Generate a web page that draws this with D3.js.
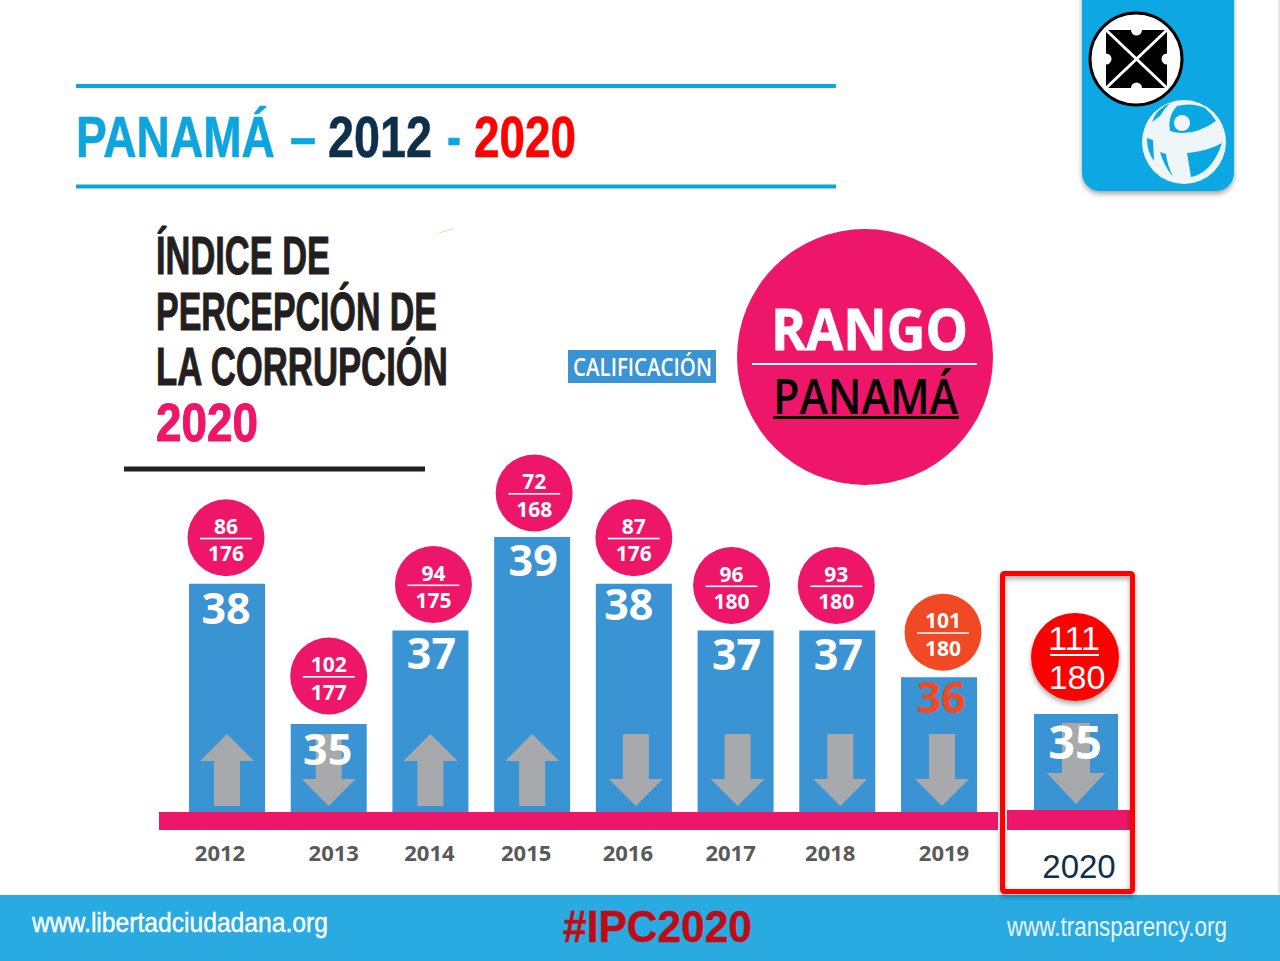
<!DOCTYPE html>
<html>
<head>
<meta charset="utf-8">
<script src="https://cdn.jsdelivr.net/npm/d3@7"></script>
<style>
  html, body { margin: 0; background: #fff; }
  svg { display: block; }
  text { font-family: "Open Sans", sans-serif; }
  .arial { font-family: "Liberation Sans", Arial, sans-serif; }
  .narrow { font-family: "Liberation Sans Narrow", "Liberation Sans", sans-serif; font-weight: 700; }
</style>
</head>
<body>
<svg width="1280" height="961"></svg>
<script>
// values
var years = ["2012", "2013", "2014", "2015", "2016", "2017", "2018", "2019"];
var scores = [38, 35, 37, 39, 38, 37, 37, 36];
var ranks = [86, 102, 94, 72, 87, 96, 93, 101];
var totals = [176, 177, 175, 168, 176, 180, 180, 180];
var trends = ["up", "down", "up", "up", "down", "down", "down", "down"];

var lastYear = "2020";
var lastScore = 35;
var lastRank = 111;
var lastTotal = 180;

var headingLines = ["ÍNDICE DE", "PERCEPCIÓN DE", "LA CORRUPCIÓN", "2020"];

// the bars in the source are hand placed, these pull things back onto it
var numberDx = [-1, -1, 1, 1, -5, 1, 1, 2];
var numberDy = [40, 41, 38, 39, 36, 39, 39, 36];
var circleDx = [-1, 0, 3, 2, 0, -4, -1, 4];
var circleDy = [46, 48, 46, 44, 46, 45, 45, 45];
var arrowDx = [0, 0, 0, 0, 2, 2, 3, 3];
var tickDx = [-7, 5, -1, -6, -6, -5, -7, 5];

var pink = "#ee1668", orange = "#f04923", blue = "#3a93d3", grey = "#a7a9ac",
    cyan = "#0ea5de", navy = "#0d2f4a", red = "#ff0000";

var svg = d3.select("svg");
var defs = svg.append("defs");
var shadow = defs.append("filter").attr("id", "shadow")
    .attr("x", "-20%").attr("y", "-20%").attr("width", "140%").attr("height", "140%");
shadow.append("feDropShadow").attr("dx", 0).attr("dy", 3).attr("stdDeviation", 2.5)
    .attr("flood-color", "#000").attr("flood-opacity", 0.35);

// text squeezed to a given width, the original fonts are not installed
function fitted(parent, str, x, y, w, size, fill, opts) {
    opts = opts || {};
    var t = parent.append("text")
        .attr("class", opts.cls || null)
        .attr("font-size", size).attr("fill", fill)
        .text(str);
    if (opts.weight) t.attr("font-weight", opts.weight);
    if (opts.heavy) t.attr("stroke", fill).attr("stroke-width", opts.heavy);
    var k = w / t.node().getComputedTextLength();
    t.attr("transform", "translate(" + x + "," + y + ") scale(" + k + ",1)");
    return t;
}

// slide edge and footer
svg.append("rect").attr("x", 1278).attr("y", 0).attr("width", 2).attr("height", 895).attr("fill", "#e6e6e6");
svg.append("rect").attr("x", 0).attr("y", 895).attr("width", 1280).attr("height", 66).attr("fill", "#29abe2");
fitted(svg, "www.libertadciudadana.org", 32, 932, 296, 27, "#fff", {cls: "arial", heavy: 0.4});
fitted(svg, "#IPC2020", 563, 942, 189, 44, "#c00a14", {cls: "arial", weight: 700, heavy: 0.4});
fitted(svg, "www.transparency.org", 1007, 936, 220, 28, "#e8f4fb", {cls: "arial"});

// header
[86, 186.5].forEach(function(y) {
    svg.append("rect").attr("x", 76).attr("y", y - 2).attr("width", 760).attr("height", 4).attr("fill", cyan);
});
var titleParts = [
    {t: "PANAMÁ", x: 76, w: 199, c: cyan},
    {t: "–", x: 290, w: 26, c: cyan},
    {t: "2012", x: 328, w: 104, c: navy},
    {t: "-", x: 447, w: 14, c: cyan},
    {t: "2020", x: 474, w: 102, c: red}
];
titleParts.forEach(function(p) {
    fitted(svg, p.t, p.x, 157, p.w, 57, p.c, {cls: "arial", weight: 700, heavy: 0.6});
});

// logo tab
var tab = svg.append("g");
tab.append("rect").attr("x", 1082).attr("y", -30).attr("width", 152).attr("height", 221).attr("rx", 18)
    .attr("fill", "#0aa8e3").attr("filter", "url(#shadow)");
tab.append("circle").attr("cx", 1136).attr("cy", 59).attr("r", 46)
    .attr("fill", "#fff").attr("stroke", "#000").attr("stroke-width", 3);
tab.append("rect").attr("x", 1106).attr("y", 30).attr("width", 61).attr("height", 58).attr("fill", "#000");
[[1136.5, 30], [1136.5, 88], [1106, 59], [1167, 59]].forEach(function(c) {
    tab.append("circle").attr("cx", c[0]).attr("cy", c[1]).attr("r", 5.5).attr("fill", "#fff");
});
tab.append("path").attr("d", "M1105 29L1168 89M1168 29L1105 89").attr("stroke", "#fff").attr("stroke-width", 3);
var globe = "#eef6fa";
tab.append("circle").attr("cx", 1184).attr("cy", 142).attr("r", 42).attr("fill", globe);
[
    "M1177 106Q1167 116 1170 131Q1192 138 1216 121Q1212 114 1205 108Q1192 102 1177 106Z",
    "M1187 153L1191 177Q1212 173 1222 143Q1208 151 1187 153Z",
    "M1170 103Q1156 109 1152 122L1160 116Q1165 108 1170 103Z",
    "M1147 138Q1147 152 1154 161L1153 140Z",
    "M1160 152Q1164 166 1173 177Q1167 164 1166 154Z",
    "M1203 101L1207 104L1205 106L1200 103Z"
].forEach(function(d) {
    tab.append("path").attr("d", d).attr("fill", "#0aa8e3");
});
tab.append("circle").attr("cx", 1182).attr("cy", 123).attr("r", 8).attr("fill", globe);

// heading block
var headingY = d3.scalePoint().domain(headingLines).range([274, 441]);
var headingW = [174, 281, 292, 102];
headingLines.forEach(function(line, i) {
    fitted(svg, line, 156, headingY(line), headingW[i], 53, i == 3 ? pink : "#231f20", {cls: "narrow", heavy: 1});
});
svg.append("rect").attr("x", 124).attr("y", 466.5).attr("width", 301).attr("height", 5).attr("fill", "#231f20");
svg.append("path").attr("d", "M439 233L453 229").attr("stroke", "#e8d4c0").attr("stroke-width", 1);

// legend bits
svg.append("rect").attr("x", 568).attr("y", 350).attr("width", 148).attr("height", 33).attr("fill", blue);
fitted(svg, "CALIFICACIÓN", 573, 376, 139, 25, "#fff", {weight: 600});
svg.append("circle").attr("cx", 865).attr("cy", 357).attr("r", 128).attr("fill", pink);
fitted(svg, "RANGO", 771, 350, 197, 57, "#fff", {weight: 700, heavy: 0.8});
svg.append("rect").attr("x", 752).attr("y", 363).attr("width", 225).attr("height", 2).attr("fill", "#fff");
fitted(svg, "PANAMÁ", 773, 414, 185, 48, "#000", {weight: 600});
svg.append("rect").attr("x", 773).attr("y", 416).attr("width", 186).attr("height", 3).attr("fill", "#000");

// scales
var x = d3.scalePoint().domain(years).range([227, 939]);
var y = d3.scaleLinear().domain([35, 39]).range([724, 537]);
var baseY = 812, barW = 76;

// 2020 was pasted in bigger, so it has its own scale
var xLast = d3.scalePoint().domain([lastYear]).range([1076, 1076]);
var yLast = d3.scaleLinear().domain([0, lastScore]).range([810, 714]);

function arrowPath(cx, dir) {
    if (dir == "up") {
        return "M" + cx + " 734L" + (cx + 27) + " 761L" + (cx + 13) + " 761L" + (cx + 13) + " 806L" +
            (cx - 13) + " 806L" + (cx - 13) + " 761L" + (cx - 27) + " 761Z";
    }
    return "M" + (cx - 13) + " 734L" + (cx + 13) + " 734L" + (cx + 13) + " 779L" + (cx + 27) + " 779L" +
        cx + " 806L" + (cx - 27) + " 779L" + (cx - 13) + " 779Z";
}

var bars = svg.append("g").selectAll("g").data(years).join("g");

bars.append("rect")
    .attr("x", function(d) { return x(d) - barW / 2; })
    .attr("y", function(d, i) { return y(scores[i]); })
    .attr("width", barW)
    .attr("height", function(d, i) { return baseY - y(scores[i]); })
    .attr("fill", blue);

bars.append("path")
    .attr("d", function(d, i) { return arrowPath(x(d) + arrowDx[i], trends[i]); })
    .attr("fill", grey);

bars.append("text")
    .attr("x", function(d, i) { return x(d) + numberDx[i]; })
    .attr("y", function(d, i) { return y(scores[i]) + numberDy[i]; })
    .attr("text-anchor", "middle")
    .attr("font-size", 43)
    .attr("font-weight", 700)
    .attr("fill", function(d, i) { return i == 7 ? orange : "#fff"; })
    .text(function(d, i) { return scores[i]; });

var badges = bars.append("g")
    .attr("transform", function(d, i) {
        return "translate(" + (x(d) + circleDx[i]) + "," + (y(scores[i]) - circleDy[i]) + ")";
    });
badges.append("circle").attr("r", 38.5)
    .attr("fill", function(d, i) { return i == 7 ? orange : pink; });
badges.append("rect").attr("x", -26).attr("y", 0).attr("width", 52).attr("height", 1.6).attr("fill", "#fff");
badges.append("text").attr("y", -4).attr("text-anchor", "middle")
    .attr("font-size", 21).attr("font-weight", 700).attr("fill", "#fff")
    .text(function(d, i) { return ranks[i]; });
badges.append("text").attr("y", 23.5).attr("text-anchor", "middle")
    .attr("font-size", 21).attr("font-weight", 700).attr("fill", "#fff")
    .text(function(d, i) { return totals[i]; });

// pink base and year labels
svg.append("rect").attr("x", 159).attr("y", baseY).attr("width", 839).attr("height", 18).attr("fill", pink);
svg.append("g").selectAll("text").data(years).join("text")
    .attr("x", function(d, i) { return x(d) + tickDx[i]; })
    .attr("y", 861)
    .attr("text-anchor", "middle")
    .attr("font-size", 22)
    .attr("font-weight", 700)
    .attr("fill", "#58595b")
    .text(function(d) { return d; });

// 2020 panel
var panel = svg.append("g");
var lx = xLast(lastYear);
panel.append("rect")
    .attr("x", lx - 42).attr("y", yLast(lastScore))
    .attr("width", 84).attr("height", yLast(0) - yLast(lastScore))
    .attr("fill", blue);
panel.append("path")
    .attr("d", "M" + (lx - 14) + " 723L" + (lx + 14) + " 723L" + (lx + 14) + " 773L" + (lx + 29) + " 773L" +
        lx + " 804L" + (lx - 29) + " 773L" + (lx - 14) + " 773Z")
    .attr("fill", grey);
panel.append("text").attr("x", lx - 1).attr("y", 759).attr("text-anchor", "middle")
    .attr("font-size", 47).attr("font-weight", 700).attr("fill", "#fff").text(lastScore);
panel.append("rect").attr("x", 1007).attr("y", yLast(0)).attr("width", 123).attr("height", 20).attr("fill", pink);
panel.append("circle").attr("cx", lx - 1).attr("cy", 657).attr("r", 44)
    .attr("fill", red).attr("filter", "url(#shadow)");
panel.append("rect").attr("x", lx - 26).attr("y", 654).attr("width", 49).attr("height", 2).attr("fill", "#fff");
panel.append("text").attr("class", "arial").attr("x", lx - 2).attr("y", 650).attr("text-anchor", "middle")
    .attr("font-size", 34).attr("fill", "#fff").text(lastRank);
panel.append("text").attr("class", "arial").attr("x", lx + 1).attr("y", 689).attr("text-anchor", "middle")
    .attr("font-size", 34).attr("fill", "#fff").text(lastTotal);
panel.append("text").attr("class", "arial").attr("x", 1079).attr("y", 878).attr("text-anchor", "middle")
    .attr("font-size", 33).attr("fill", navy).text(lastYear);
panel.append("rect").attr("x", 1002.5).attr("y", 573.5).attr("width", 130).attr("height", 318)
    .attr("rx", 2).attr("fill", "none").attr("stroke", red).attr("stroke-width", 5)
    .attr("filter", "url(#shadow)");
</script>
</body>
</html>
